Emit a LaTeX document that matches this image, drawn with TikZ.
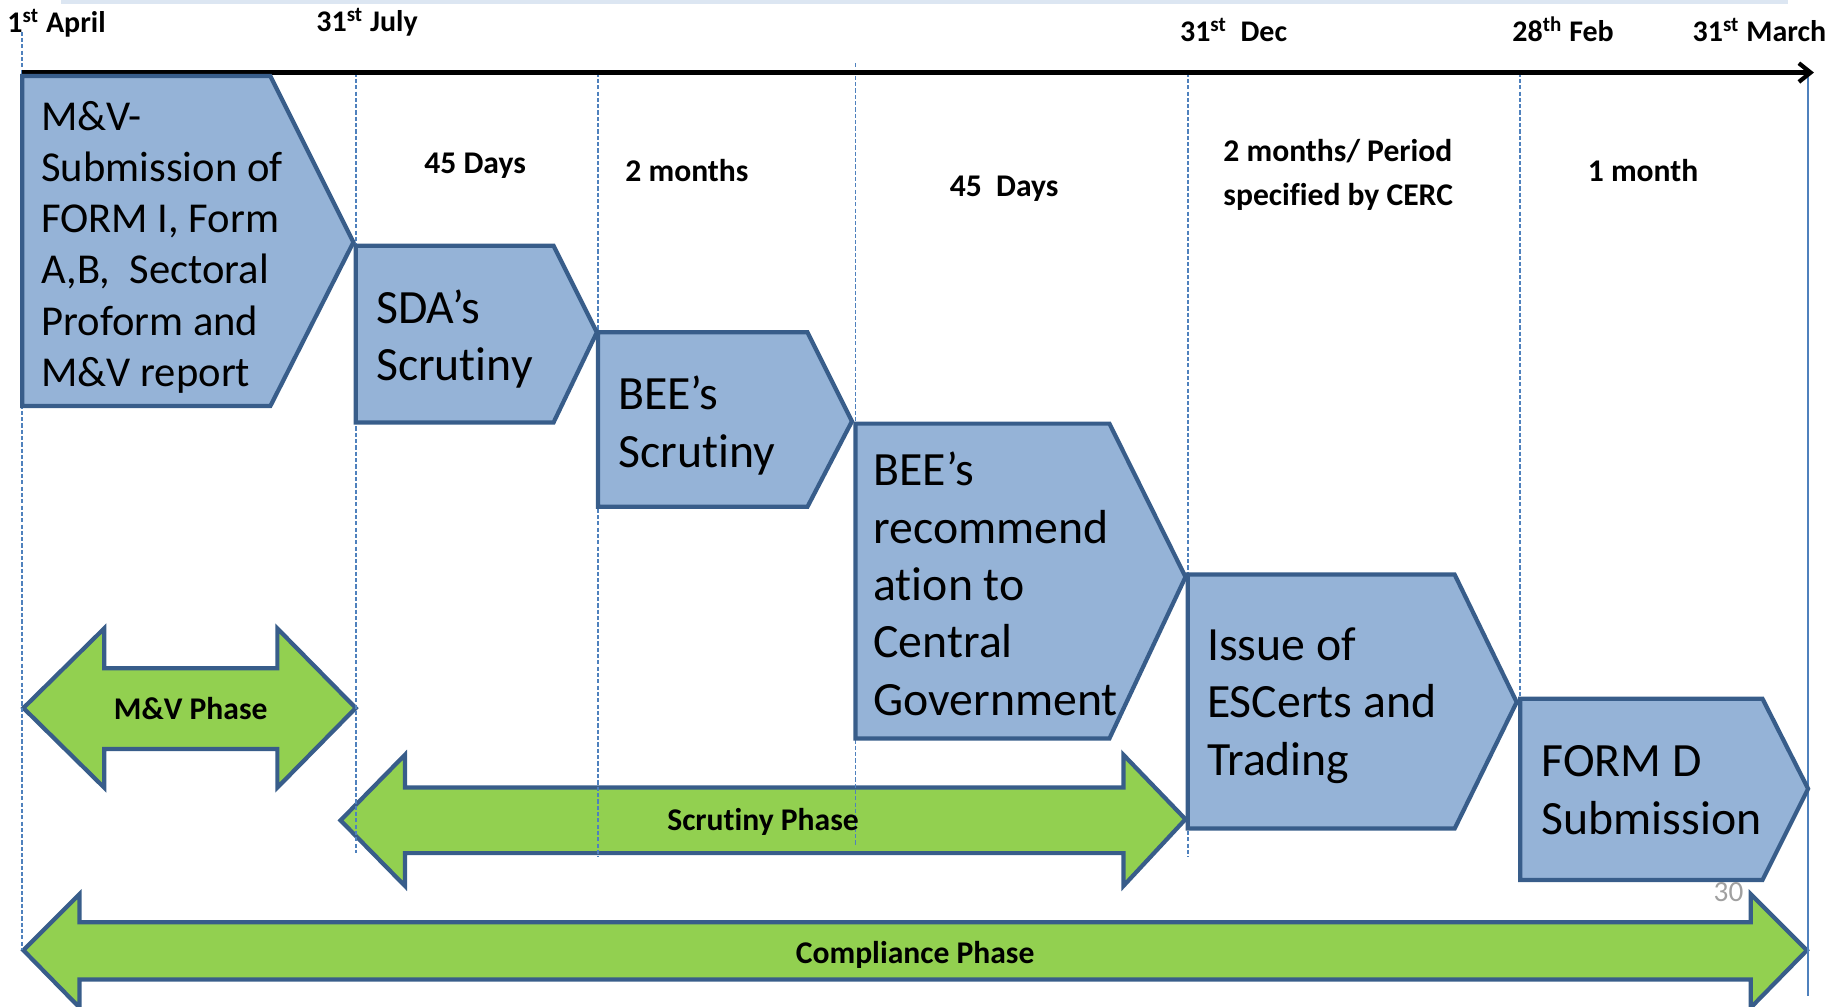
\documentclass[tikz,border=0pt]{standalone}
\usepackage{fontspec}
\setmainfont{Carlito}[Ligatures=NoCommon]
\usetikzlibrary{arrows.meta}
\definecolor{boxfill}{HTML}{95B3D7}
\definecolor{boxline}{HTML}{385D8A}
\definecolor{phasefill}{HTML}{92D050}
\definecolor{guideblue}{HTML}{4F81BD}
\definecolor{stripe}{HTML}{DCE6F2}
\definecolor{pagenum}{HTML}{A0A0A0}
\begin{document}
\begin{tikzpicture}[x=0.5pt,y=-0.5pt,
  stepbox/.style={draw=boxline,fill=boxfill,line width=1.8pt,line join=miter},
  phasearrow/.style={draw=boxline,fill=phasefill,line width=1.8pt,line join=miter},
  guideline/.style={draw=guideblue,line width=0.75pt,dash pattern=on 1.8pt off 0.9pt},
  boxtext/.style={anchor=north west,inner sep=0pt,align=left,font=\fontsize{20.4}{24.5}\selectfont},
  smalltext/.style={anchor=north west,inner sep=0pt,align=left,font=\fontsize{18.2}{21.9}\selectfont},
  lbl/.style={inner sep=0pt,font=\fontsize{13.5}{18.5}\selectfont\bfseries},
  datelbl/.style={anchor=base west,inner sep=0pt,font=\fontsize{12.8}{15}\selectfont\bfseries}]
\useasboundingbox (0,0) rectangle (1568,860);
% top stripe
\fill[stripe] (52,0) rectangle (1528,3.5);

% phase arrows
\draw[phasearrow] (20,605) -- (89,537) -- (89,571) -- (237,571) -- (237,537) -- (304,605)
  -- (237,673) -- (237,640) -- (89,640) -- (89,673) -- cycle;
\draw[phasearrow] (291,701) -- (346,645) -- (346,673) -- (960,673) -- (960,645) -- (1013,700)
  -- (960,757) -- (960,729) -- (346,729) -- (346,757) -- cycle;
\draw[phasearrow] (20,812) -- (68,764) -- (68,788) -- (1496,788) -- (1496,764) -- (1544,812)
  -- (1496,861) -- (1496,837) -- (68,837) -- (68,861) -- cycle;

% guide lines
\draw[guideline] (19,27) -- (19,812);
\draw[guideline] (304,62) -- (304,729);
\draw[guideline] (511,62) -- (511,732);
\draw[guideline] (731,54) -- (731,722);
\draw[guideline] (1015,62) -- (1015,732);
\draw[guideline] (1299,62) -- (1299,597);
\draw[draw=guideblue,line width=0.8pt] (1545,62) -- (1545,851);

% timeline
\coordinate (tstart) at (19,62);
\coordinate (tend) at (1550,62);
\draw[line width=1.8pt,-{Straight Barb[length=5pt,width=8pt]}] (tstart) -- (tend);

% step boxes
\draw[stepbox] (19,65) -- (231,65) -- (302,207) -- (231,347) -- (19,347) -- cycle;
\draw[stepbox] (304,210) -- (473,210) -- (510,284) -- (473,361) -- (304,361) -- cycle;
\draw[stepbox] (511,284) -- (690,284) -- (728,360) -- (690,433) -- (511,433) -- cycle;
\draw[stepbox] (731,362) -- (948,362) -- (1013,493) -- (948,631) -- (731,631) -- cycle;
\draw[stepbox] (1015,491) -- (1243,491) -- (1296,600) -- (1243,708) -- (1015,708) -- cycle;
\draw[stepbox] (1299,597) -- (1506,597) -- (1545,674) -- (1506,752) -- (1299,752) -- cycle;

% box texts
\node[smalltext] (t1) at (35,86) {M\&V-\\Submission of\\FORM I, Form\\A,B,\ \ Sectoral\\Proform and\\M\&V report};
\node[boxtext] (t2) at (321,247) {SDA’s\\Scrutiny};
\node[boxtext] (t3) at (528,321) {BEE’s\\Scrutiny};
\node[boxtext] (t4) at (746,386) {BEE’s\\recommend\\ation to\\Central\\Government};
\node[boxtext] (t5) at (1031,536) {Issue of\\ESCerts and\\Trading};
\node[boxtext] (t6) at (1317,637) {FORM D\\Submission};

% durations
\node[lbl,anchor=base] (d1) at (406,148) {45 Days};
\node[lbl,anchor=base] (d2) at (587,155) {2 months};
\node[lbl,anchor=base] (d3) at (858,168) {45\ \ Days};
\node[lbl,anchor=north west,align=left] (d4) at (1045,119) {2 months/ Period\\specified by CERC};
\node[lbl,anchor=base] (d5) at (1404,155) {1 month};

% dates
\node[datelbl] (a1) at (6,28) {1\textsuperscript{st} April};
\node[datelbl] (a2) at (270,27) {31\textsuperscript{st} July};
\node[datelbl] (a3) at (1008,35.6) {31\textsuperscript{st}\ \ Dec};
\node[datelbl] (a4) at (1292,35.6) {28\textsuperscript{th} Feb};
\node[datelbl] (a5) at (1446,35.6) {31\textsuperscript{st} March};

% phase labels
\node[lbl,anchor=base] (p1) at (163,615) {M\&V Phase};
\node[lbl,anchor=base] (p2) at (652,710) {Scrutiny Phase};
\node[lbl,anchor=base] (p3) at (782,823) {Compliance Phase};

% page number
\node[anchor=base,inner sep=0pt,text=pagenum,font=\fontsize{12.5}{15}\selectfont] (pg) at (1477,770) {30};
\end{tikzpicture}
\end{document}
